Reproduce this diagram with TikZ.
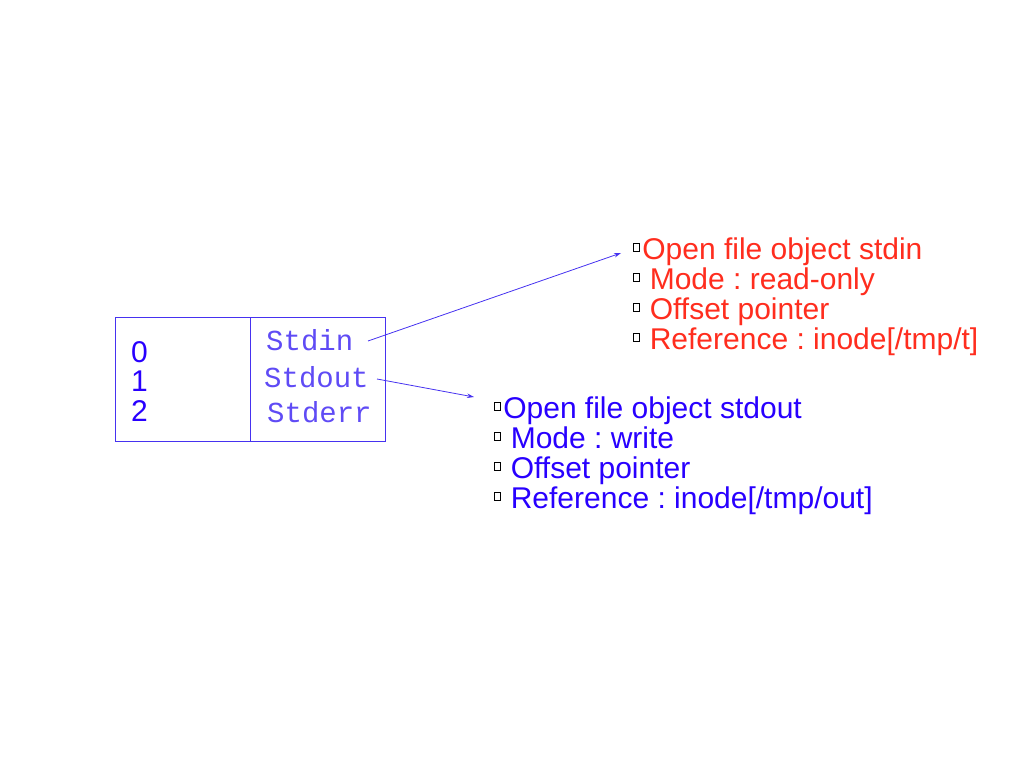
\documentclass[tikz,border=0pt]{standalone}
\usepackage{fontspec}
\setmainfont{Liberation Sans}
\newfontfamily\monofont{Liberation Mono}
\usetikzlibrary{arrows.meta}
\definecolor{myblue}{RGB}{40,0,255}
\definecolor{linblue}{RGB}{70,50,240}
\definecolor{monoblue}{RGB}{95,75,245}
\definecolor{myred}{RGB}{255,45,30}
\frenchspacing
\newcommand{\bx}{\textcolor{black}{\raisebox{8.5pt}{\setlength{\fboxsep}{0pt}\setlength{\fboxrule}{0.8pt}\fbox{\rule{0pt}{6.5pt}\rule{5pt}{0pt}}}}}
\begin{document}
\begin{tikzpicture}[x=1pt,y=-1pt,
  txt/.style={anchor=base west,inner sep=0pt,font=\fontsize{30}{30}\selectfont},
  mono/.style={anchor=base west,inner sep=0pt,font=\monofont\fontsize{29}{30}\selectfont,text=monoblue},
  arr/.style={draw=linblue,line width=0.8pt,-{Stealth[length=7pt,width=4.5pt]}}]
\useasboundingbox (0,0) rectangle (1024,768);
% table
\node[draw=linblue,line width=0.8pt,minimum width=270pt,minimum height=124pt,anchor=north west,inner sep=0pt] (tab) at (115,317) {};
\draw[linblue,line width=0.8pt] (250,317) -- (250,441);
\node[txt,text=myblue] (d0) at (131,362) {0};
\node[txt,text=myblue] (d1) at (131,391) {1};
\node[txt,text=myblue] (d2) at (131,421) {2};
\node[mono] (sin) at (266,350) {Stdin};
\node[mono] (sout) at (264,387) {Stdout};
\node[mono] (serr) at (267,422) {Stderr};
% red block
\node[txt,text=myred] (r1) at (633,259) {\bx\hspace{2.5pt}Open file object stdin};
\node[txt,text=myred] (r2) at (633,289) {\bx\hspace{10pt}Mode : read-only};
\node[txt,text=myred] (r3) at (633,319) {\bx\hspace{10pt}Offset pointer};
\node[txt,text=myred] (r4) at (633,349) {\bx\hspace{10pt}Reference : inode[/tmp/t]};
% blue block
\node[txt,text=myblue] (b1) at (494,418) {\bx\hspace{2.5pt}Open file object stdout};
\node[txt,text=myblue] (b2) at (494,448) {\bx\hspace{10pt}Mode : write};
\node[txt,text=myblue] (b3) at (494,478) {\bx\hspace{10pt}Offset pointer};
\node[txt,text=myblue] (b4) at (494,508) {\bx\hspace{10pt}Reference : inode[/tmp/out]};
% arrows
\coordinate (s1) at (368,341);
\coordinate (e1) at (621,253);
\coordinate (s2) at (377,379);
\coordinate (e2) at (474,397);
\draw[arr] (s1) -- (e1);
\draw[arr] (s2) -- (e2);
\end{tikzpicture}
\end{document}
